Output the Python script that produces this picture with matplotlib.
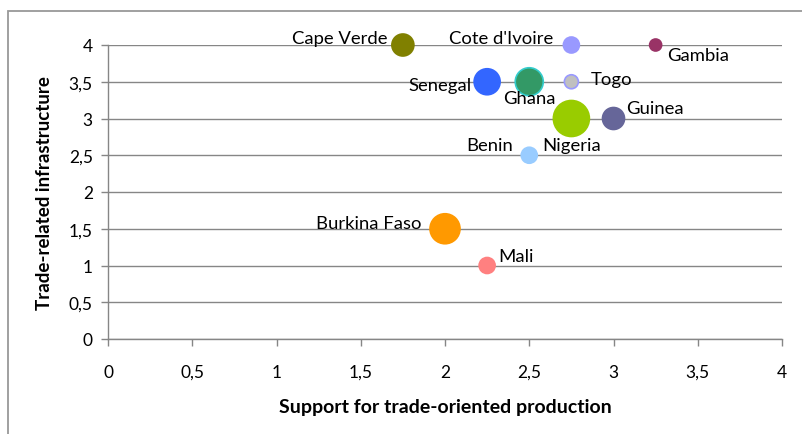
import matplotlib
matplotlib.use("Agg")
import matplotlib.pyplot as plt
from matplotlib.patches import Rectangle

# ---- data ----
countries = ["Cape Verde", "Cote d'Ivoire", "Gambia", "Senegal", "Ghana", "Togo",
             "Nigeria", "Guinea", "Benin", "Burkina Faso", "Mali"]
support = [1.75, 2.75, 3.25, 2.25, 2.5, 2.75, 2.75, 3.0, 2.5, 2.0, 2.25]
infrastructure = [4.0, 4.0, 4.0, 3.5, 3.5, 3.5, 3.0, 3.0, 2.5, 1.5, 1.0]
bubble_size = [11, 8, 6, 13, 14, 7, 18, 11, 8, 15, 8]
x_ticks = [0, 0.5, 1, 1.5, 2, 2.5, 3, 3.5, 4]
y_ticks = [0, 0.5, 1, 1.5, 2, 2.5, 3, 3.5, 4]
tick_labels = ["0", "0,5", "1", "1,5", "2", "2,5", "3", "3,5", "4"]

# ---- styles ----
fill = ["#808000", "#9999FF", "#993366", "#3366FF", "#339966", "#C0C0C0",
        "#99CC00", "#666699", "#99CCFF", "#FF9900", "#FF8080"]
edge = ["#808000", "#9999FF", "#993366", "#3366FF", "#33CCCC", "#9999FF",
        "#99CC00", "#666699", "#99CCFF", "#FF9900", "#FF8080"]
# label offsets in pixels (dx, dy up), alignment
label_pos = {
    "Cape Verde": (-15, 7, "right"),
    "Cote d'Ivoire": (-18, 7, "right"),
    "Gambia": (11, -10, "left"),
    "Senegal": (-16, -3, "right"),
    "Ghana": (0, -16, "center"),
    "Togo": (19, 3, "left"),
    "Nigeria": (0, -27, "center"),
    "Guinea": (13, 10, "left"),
    "Benin": (-16, 10, "right"),
    "Burkina Faso": (-24, 6, "right"),
    "Mali": (11, 10, "left"),
}

W, H = 802, 435
fig = plt.figure(figsize=(W / 100, H / 100), dpi=100)
font = ["Lato", "DejaVu Sans"]
gray = "#868686"

# outer frame
fig.patches.append(Rectangle((8 / W, -0.1), 1.2, 1 - 12 / H + 0.1, transform=fig.transFigure,
                             fill=False, edgecolor="#999999", linewidth=1.3))

ax = fig.add_axes([108 / W, 1 - 340 / H, (782 - 108) / W, (340 - 46) / H])
ax.set_xlim(0, 4)
ax.set_ylim(0, 4)
ax.set_facecolor("none")

for s in ["top", "right"]:
    ax.spines[s].set_visible(False)
for s in ["left", "bottom"]:
    ax.spines[s].set_color(gray)
    ax.spines[s].set_linewidth(1.0)

ax.set_yticks(y_ticks)
ax.set_yticklabels(tick_labels)
ax.set_xticks(x_ticks)
ax.set_xticklabels(tick_labels)
ax.tick_params(axis="both", colors=gray, length=5, width=1.0, direction="out",
               labelcolor="black", labelsize=12.5, pad=6)
ax.tick_params(axis="x", pad=13)
for lab in ax.get_xticklabels() + ax.get_yticklabels():
    lab.set_family(font)
ax.yaxis.grid(True, color=gray, linewidth=1.0)
ax.set_axisbelow(True)

sizes = [(2 * r * 0.72) ** 2 for r in bubble_size]
ax.scatter(support, infrastructure, s=sizes, c=fill, edgecolors=edge, linewidths=1.2,
           zorder=3, clip_on=False)

for name, x, y in zip(countries, support, infrastructure):
    dx, dy, ha = label_pos[name]
    ax.annotate(name, (x, y), xytext=(dx * 0.72, dy * 0.72), textcoords="offset points",
                ha=ha, va="center", fontsize=13.3, family=font, zorder=4)

ax.set_xlabel("Support for trade-oriented production", fontsize=14, fontweight="bold",
              family=font, labelpad=13)
ax.set_ylabel("Trade-related infrastructure", fontsize=13.5, fontweight="bold",
              family=font, labelpad=11)

fig.savefig("out.png", dpi=100)
